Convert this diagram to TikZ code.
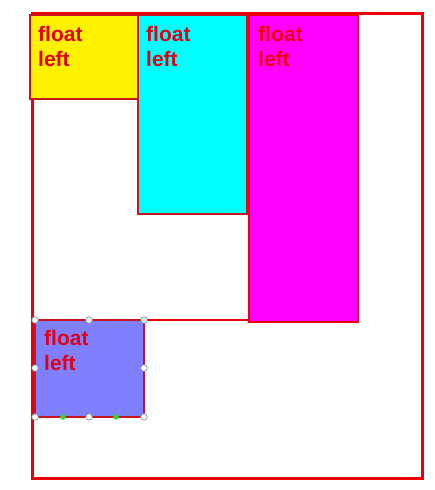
\documentclass[tikz,border=0pt]{standalone}
\usepackage{fontspec}
\setmainfont{Liberation Sans}
\definecolor{fred}{RGB}{235,0,10}
\definecolor{txtred}{RGB}{225,0,20}
\definecolor{edge}{RGB}{200,20,30}
\definecolor{cyanbox}{RGB}{0,255,255}
\definecolor{magbox}{RGB}{255,0,255}
\definecolor{bluebox}{RGB}{128,128,255}
\definecolor{handlegray}{RGB}{150,150,150}
\definecolor{handlegreen}{RGB}{40,220,40}
\begin{document}
\begin{tikzpicture}[x=1pt,y=-1pt,
  floatbox/.style={draw=edge,line width=1.5pt},
  lbl/.style={anchor=north west,align=left,inner sep=0pt,text=txtred,
    font=\bfseries\fontsize{21}{25.5}\selectfont},
  handle/.style={circle,draw=handlegray,fill=white,line width=0.7pt,inner sep=0pt,minimum size=6.5pt},
  ghandle/.style={circle,fill=handlegreen,inner sep=0pt,minimum size=5.5pt}]
\useasboundingbox[fill=white] (0,0) rectangle (435,490);
% outer container
\draw[fred,line width=3pt] (32,13) rectangle (422,478);
% inner parent container
\draw[fred,line width=2.2pt] (33,13) rectangle (358,320);
% floating boxes
\draw[floatbox,fill=yellow] (30,15) rectangle (139,99);
\draw[floatbox,fill=cyanbox] (138,15) rectangle (247,214);
\draw[floatbox,draw=fred,line width=2.2pt,fill=magbox] (249,15) rectangle (358,322);
\draw[floatbox,fill=bluebox] (35,320) rectangle (144,417);
% labels
\node[lbl] (t1) at (38,26) {float\\left};
\node[lbl] (t2) at (146,26) {float\\left};
\node[lbl,text=fred] (t3) at (258,26) {float\\left};
\node[lbl] (t4) at (44,330) {float\\left};
% selection handles
\foreach \p in {(35,320),(89,320),(144,320),(35,368),(144,368),(35,417),(89,417),(144,417)}
  \node[handle] at \p {};
\foreach \p in {(63,417),(116,417)}
  \node[ghandle] at \p {};
\end{tikzpicture}
\end{document}
